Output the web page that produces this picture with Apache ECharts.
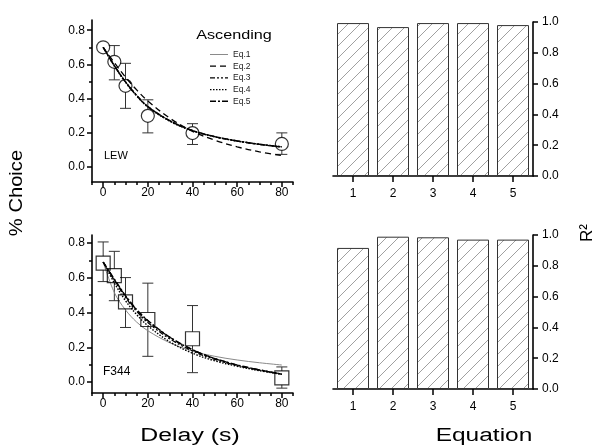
<!DOCTYPE html>
<html><head><meta charset="utf-8">
<script src="https://cdn.jsdelivr.net/npm/echarts@6/dist/echarts.min.js"></script>
<style>html,body{margin:0;padding:0;background:#fff}#c{width:604px;height:448px}</style>
</head><body><div id="c"></div>
<script>
// ---------- data ----------
const delays = [0, 5, 10, 20, 40, 80];
const lewMean = [0.70, 0.615, 0.474, 0.298, 0.197, 0.133];
const lewLow  = [0.70, 0.509, 0.342, 0.198, 0.130, 0.072];
const lewHigh = [0.70, 0.710, 0.606, 0.392, 0.252, 0.198];
const f344Mean = [0.684, 0.612, 0.461, 0.360, 0.249, 0.024];
const f344Low  = [0.578, 0.468, 0.314, 0.148, 0.054, -0.035];
const f344High = [0.806, 0.752, 0.601, 0.569, 0.440, 0.087];

const fitX = [0, 5, 10, 15, 20, 30, 40, 50, 60, 70, 80];
const lewEq1 = [0.70, 0.595, 0.500, 0.420, 0.355, 0.270, 0.213, 0.177, 0.152, 0.132, 0.117];
const lewEq2 = [0.70, 0.610, 0.525, 0.450, 0.385, 0.283, 0.207, 0.155, 0.116, 0.087, 0.065];
const lewEq3 = [0.70, 0.593, 0.497, 0.418, 0.352, 0.267, 0.211, 0.175, 0.150, 0.130, 0.115];
const lewEq4 = [0.70, 0.590, 0.495, 0.415, 0.350, 0.265, 0.210, 0.175, 0.150, 0.131, 0.116];
const lewEq5 = [0.70, 0.592, 0.497, 0.417, 0.352, 0.268, 0.212, 0.176, 0.151, 0.131, 0.116];
const f344Eq1 = [0.69, 0.515, 0.415, 0.345, 0.295, 0.225, 0.178, 0.148, 0.127, 0.111, 0.098];
const f344Eq2 = [0.69, 0.590, 0.495, 0.415, 0.352, 0.256, 0.186, 0.135, 0.098, 0.070, 0.046];
const f344Eq3 = [0.69, 0.585, 0.487, 0.407, 0.342, 0.247, 0.179, 0.130, 0.095, 0.068, 0.046];
const f344Eq4 = [0.69, 0.570, 0.468, 0.388, 0.324, 0.230, 0.166, 0.122, 0.091, 0.065, 0.045];
const f344Eq5 = [0.69, 0.592, 0.497, 0.417, 0.354, 0.257, 0.186, 0.135, 0.098, 0.070, 0.045];

const equations = ['1', '2', '3', '4', '5'];
const lewR2 = [0.993, 0.967, 0.993, 0.993, 0.980];
const f344R2 = [0.916, 0.989, 0.985, 0.970, 0.970];

const eqNames = ['Eq.1', 'Eq.2', 'Eq.3', 'Eq.4', 'Eq.5'];
const xMajorTicks = [0, 20, 40, 60, 80];
const xMinorTicks = [-5, 5, 10, 15, 25, 30, 35, 45, 50, 55, 65, 70, 75, 85];
const yMajorTicks = [0, 0.2, 0.4, 0.6, 0.8];
const yMinorTicks = [0.1, 0.3, 0.5, 0.7];

// ---------- styles ----------
const FONT = 'Liberation Sans, Arial, sans-serif';
const eqStyles = [
  {color: '#8a8a8a', width: 1, type: 'solid'},
  {color: '#000', width: 1.3, type: [6, 4]},
  {color: '#000', width: 1.3, type: [5, 2, 2, 2, 2, 2]},
  {color: '#000', width: 1.4, type: [1.5, 1.5]},
  {color: '#000', width: 1.5, type: [6, 2, 2, 2]}
];

const pc = document.createElement('canvas');
pc.width = 12; pc.height = 12;
const g = pc.getContext('2d');
g.fillStyle = '#fff'; g.fillRect(0, 0, 12, 12);
g.strokeStyle = '#777'; g.lineWidth = 0.7;
g.beginPath();
g.moveTo(0, 12); g.lineTo(12, 0);
g.moveTo(-3, 3); g.lineTo(3, -3);
g.moveTo(9, 15); g.lineTo(15, 9);
g.stroke();

const axLine = {show: true, onZero: false, lineStyle: {color: '#000', width: 1.6}};
const tickStyle = {color: '#000', width: 1.5};
const lbl = {color: '#000', fontSize: 12, fontFamily: FONT};

function leftX(grid) {
  return [
    {type: 'value', gridIndex: grid, position: 'bottom', min: -5, max: 85,
     axisLine: axLine, splitLine: {show: false},
     axisTick: {show: true, customValues: xMajorTicks, length: 5, lineStyle: tickStyle},
     axisLabel: Object.assign({customValues: xMajorTicks, margin: 5, formatter: v => String(v)}, lbl)},
    {type: 'value', gridIndex: grid, position: 'bottom', min: -5, max: 85,
     axisLine: {show: false, onZero: false}, splitLine: {show: false},
     axisTick: {show: true, customValues: xMinorTicks, length: 3, lineStyle: tickStyle},
     axisLabel: {show: false}}
  ];
}
function leftY(grid, min, max) {
  return [
    {type: 'value', gridIndex: grid, position: 'left', min: min, max: max,
     axisLine: axLine, splitLine: {show: false},
     axisTick: {show: true, customValues: yMajorTicks, length: 5, lineStyle: tickStyle},
     axisLabel: Object.assign({customValues: yMajorTicks, margin: 7, formatter: v => v.toFixed(1)}, lbl)},
    {type: 'value', gridIndex: grid, position: 'left', min: min, max: max,
     axisLine: {show: false, onZero: false}, splitLine: {show: false},
     axisTick: {show: true, customValues: yMinorTicks, length: 3, lineStyle: tickStyle},
     axisLabel: {show: false}}
  ];
}
function rightX(grid) {
  return {type: 'category', gridIndex: grid, data: equations, boundaryGap: true,
    axisLine: {show: true, onZero: false, lineStyle: {color: '#000', width: 1.6}},
    axisTick: {show: true, alignWithLabel: true, length: 6, lineStyle: tickStyle},
    axisLabel: Object.assign({margin: 11.5}, lbl), splitLine: {show: false}};
}
function rightY(grid) {
  return {type: 'value', gridIndex: grid, position: 'right', min: 0, max: 1, interval: 0.2,
    axisLine: {show: true, onZero: false, lineStyle: {color: '#000', width: 1.6}},
    axisTick: {show: true, length: 5, lineStyle: tickStyle},
    axisLabel: Object.assign({margin: 9, formatter: v => v.toFixed(1)}, lbl),
    splitLine: {show: false}};
}

function fitSeries(arr, xi, yi) {
  return arr.map((d, k) => ({
    name: eqNames[k], type: 'line', xAxisIndex: xi, yAxisIndex: yi,
    data: fitX.map((x, i) => [x, d[i]]), smooth: 0.35, symbol: 'none', showSymbol: false,
    lineStyle: {color: eqStyles[k].color, width: eqStyles[k].width, type: eqStyles[k].type},
    itemStyle: {color: eqStyles[k].color}, z: 3, silent: true
  }));
}
function errSeries(mean, lo, hi, xi, yi, r) {
  return {
    type: 'custom', xAxisIndex: xi, yAxisIndex: yi, silent: true, z: 2,
    data: delays.map((x, i) => [x, mean[i], lo[i], hi[i]]),
    encode: {x: 0, y: [1, 2, 3]},
    renderItem: function (params, api) {
      const x = api.value(0), m = api.value(1), l = api.value(2), h = api.value(3);
      const pm = api.coord([x, m]), pl = api.coord([x, l]), ph = api.coord([x, h]);
      const w = 5.5, st = {stroke: '#333', lineWidth: 1};
      const ch = [];
      if (pm[1] - ph[1] > r) {
        ch.push({type: 'line', shape: {x1: pm[0], y1: pm[1] - r, x2: ph[0], y2: ph[1]}, style: st});
        ch.push({type: 'line', shape: {x1: ph[0] - w, y1: ph[1], x2: ph[0] + w, y2: ph[1]}, style: st});
      }
      if (pl[1] - pm[1] > r) {
        ch.push({type: 'line', shape: {x1: pm[0], y1: pm[1] + r, x2: pl[0], y2: pl[1]}, style: st});
        ch.push({type: 'line', shape: {x1: pl[0] - w, y1: pl[1], x2: pl[0] + w, y2: pl[1]}, style: st});
      }
      return {type: 'group', children: ch};
    }
  };
}

const chart = echarts.init(document.getElementById('c'), null, {renderer: 'canvas'});
const series = [].concat(
  fitSeries([lewEq1, lewEq2, lewEq3, lewEq4, lewEq5], 0, 0),
  fitSeries([f344Eq1, f344Eq2, f344Eq3, f344Eq4, f344Eq5], 2, 2),
  [errSeries(lewMean, lewLow, lewHigh, 0, 0, 6.5),
   errSeries(f344Mean, f344Low, f344High, 2, 2, 7),
   {type: 'scatter', xAxisIndex: 0, yAxisIndex: 0, symbol: 'circle', symbolSize: 13,
    data: delays.map((x, i) => [x, lewMean[i]]), silent: true, z: 4,
    itemStyle: {color: 'rgba(0,0,0,0)', borderColor: '#000', borderWidth: 1.2}},
   {type: 'scatter', xAxisIndex: 2, yAxisIndex: 2, symbol: 'rect', symbolSize: 14,
    data: delays.map((x, i) => [x, f344Mean[i]]), silent: true, z: 4,
    itemStyle: {color: 'rgba(0,0,0,0)', borderColor: '#000', borderWidth: 1.2}},
   {type: 'bar', xAxisIndex: 4, yAxisIndex: 4, data: lewR2, barWidth: 32, silent: true,
    itemStyle: {color: {image: pc, repeat: 'repeat'}, borderColor: '#333', borderWidth: 1}},
   {type: 'bar', xAxisIndex: 5, yAxisIndex: 5, data: f344R2, barWidth: 32, silent: true,
    itemStyle: {color: {image: pc, repeat: 'repeat'}, borderColor: '#333', borderWidth: 1}}]
);

const T = (o) => ({type: 'text', silent: true, x: o.x, y: o.y, rotation: o.rot || 0,
  scaleX: o.sx || 1, scaleY: 1,
  style: {text: o.text, fontSize: o.size, fontFamily: FONT, fill: o.fill || '#000',
    align: o.align || 'center', textAlign: o.align || 'center',
    verticalAlign: 'middle', textVerticalAlign: 'middle'}});

// legend key samples (line styles next to the legend texts)
const LEG_TOP = 50, LEG_ROW = 11.7;
const legendKeys = eqStyles.map((s, k) => ({
  type: 'line', silent: true,
  shape: {x1: 210, y1: LEG_TOP + 4.5 + LEG_ROW * k, x2: 228, y2: LEG_TOP + 4.5 + LEG_ROW * k},
  style: {stroke: s.color, lineWidth: s.width, lineDash: Array.isArray(s.type) ? s.type : null}
}));

chart.setOption({
  animation: false,
  backgroundColor: '#fff',
  textStyle: {fontFamily: FONT},
  grid: [
    {left: 92, top: 20, width: 201, height: 162, containLabel: false, outerBoundsMode: 'none'},
    {left: 92, top: 235, width: 201, height: 158, containLabel: false, outerBoundsMode: 'none'},
    {left: 333, top: 22, width: 200, height: 154, containLabel: false, outerBoundsMode: 'none'},
    {left: 333, top: 235, width: 200, height: 154, containLabel: false, outerBoundsMode: 'none'}
  ],
  xAxis: [].concat(leftX(0), leftX(1), [rightX(2), rightX(3)]),
  yAxis: [].concat(leftY(0, -0.09, 0.86), leftY(1, -0.063, 0.846), [rightY(2), rightY(3)]),
  legend: {
    data: eqNames.map(n => ({name: n, icon: 'none'})),
    left: 210, top: LEG_TOP, orient: 'vertical', itemWidth: 18, itemHeight: 8,
    itemGap: 2.7, selectedMode: false, padding: 0,
    textStyle: {fontSize: 8.5, color: '#222', fontFamily: FONT, lineHeight: 9}
  },
  series: series,
  graphic: legendKeys.concat([
    T({text: 'Ascending', x: 234, y: 35, size: 13.5, sx: 1.2}),
    T({text: 'LEW', x: 104, y: 156, size: 11, align: 'left'}),
    T({text: 'F344', x: 103, y: 372, size: 12, align: 'left'}),
    T({text: '% Choice', x: 17, y: 193, size: 18, sx: 1.12, rot: Math.PI / 2}),
    T({text: 'Delay (s)', x: 190, y: 436, size: 18, sx: 1.38}),
    T({text: 'Equation', x: 484, y: 436, size: 18, sx: 1.36}),
    T({text: 'R²', x: 587, y: 233, size: 17, rot: Math.PI / 2})
  ])
});
</script>
</body></html>
